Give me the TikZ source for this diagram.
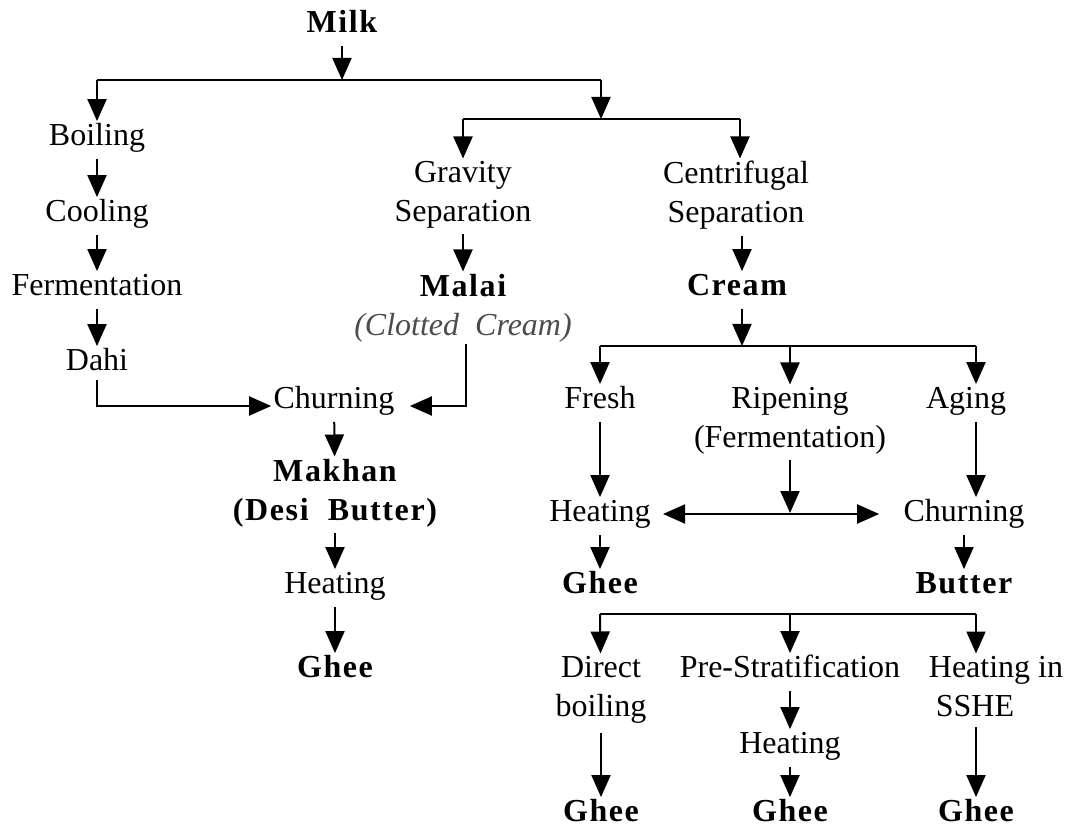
\documentclass[tikz,border=0pt]{standalone}
\usepackage{fontspec}
\setmainfont{Liberation Serif}
\newfontfamily\spbold{Liberation Serif}[LetterSpace=5]
\usetikzlibrary{arrows.meta}
\newcommand\fs{\fontsize{16}{19.5}\selectfont}
\tikzset{
  lbl/.style={inner sep=0pt, text height=11pt, text depth=3.5pt, font=\fs},
  bld/.style={lbl, font=\fs\spbold\bfseries},
  ml/.style={inner sep=0pt, align=center, font=\fs, anchor=north},
  arr/.style={-{Triangle[width=9.5pt,length=11pt]}, line width=1pt, shorten <=3pt, shorten >=1pt},
  arrb/.style={{Triangle[width=9.5pt,length=11pt]}-{Triangle[width=9.5pt,length=11pt]}, line width=1pt},
  ln/.style={line width=1pt},
}
\begin{document}
\begin{tikzpicture}[x=0.5pt,y=-0.5pt]
\useasboundingbox[fill=white] (0,0) rectangle (1081,828);
% nodes
\node[bld] (milk) at (342,25) {Milk};
\node[lbl] (boil) at (97,138) {Boiling};
\node[lbl] (cool) at (97,214) {Cooling};
\node[lbl] (ferm) at (97,288) {Fermentation};
\node[lbl] (dahi) at (97,363) {Dahi};
\node[ml] (grav) at (463,160.5) {Gravity\\Separation};
\node[ml] (cent) at (736,160.5) {Centrifugal\\Separation};
\node[ml] (malai) at (463,273.5) {{\spbold\bfseries Malai}\\{\color{black!70}\itshape (Clotted\ \ Cream)}};
\node[bld] (cream) at (737,288) {Cream};
\node[lbl] (churn1) at (334,401) {Churning};
\node[ml, font=\fs\spbold\bfseries] (makhan) at (335,458.5) {Makhan\\(Desi\ \ Butter)};
\node[lbl] (heat1) at (335,586) {Heating};
\node[bld] (ghee1) at (335,670) {Ghee};
\node[lbl] (fresh) at (600,401) {Fresh};
\node[ml] (ripen) at (790,386.5) {Ripening\\(Fermentation)};
\node[lbl] (aging) at (966,401) {Aging};
\node[lbl] (heat2) at (600,514) {Heating};
\node[lbl] (churn2) at (964,514) {Churning};
\node[bld] (ghee2) at (600,586) {Ghee};
\node[bld] (butter) at (964,586) {Butter};
\node[ml] (direct) at (601,655.5) {Direct\\boiling};
\node[lbl] (prestr) at (790,670) {Pre-Stratification};
\node[ml] (ssh) at (996,655.5) {Heating in\\SSHE\hspace*{21pt}};
\node[lbl] (heat3) at (790,746) {Heating};
\node[bld] (ghee3) at (601,814) {Ghee};
\node[bld] (ghee4) at (790,814) {Ghee};
\node[bld] (ghee5) at (976,814) {Ghee};
% junction coordinates
\coordinate (j1) at (342,80);
\coordinate (j1l) at (97,80);
\coordinate (j1r) at (601,80);
\coordinate (j2) at (601,119);
\coordinate (j2l) at (463,119);
\coordinate (j2r) at (740,119);
\coordinate (j3) at (742,346);
\coordinate (j3l) at (600,346);
\coordinate (j3m) at (790,346);
\coordinate (j3r) at (976,346);
\coordinate (hm) at (790,513);
\coordinate (m1) at (466,344);
\coordinate (j4l) at (600,614);
\coordinate (j4m) at (790,614);
\coordinate (j4r) at (976,614);
% connectors
\draw[arr, shorten >=0pt] (milk) -- (j1);
\draw[ln] (j1l) -- (j1r);
\draw[arr, shorten <=0pt] (j1l) -- (boil);
\draw[arr, shorten <=0pt, shorten >=0pt] (j1r) -- (j2);
\draw[ln] (j2l) -- (j2r);
\draw[arr, shorten <=0pt] (j2l) -- (grav);
\draw[arr, shorten <=0pt] (j2r) -- (j2r |- cent.north);
\draw[arr] (boil) -- (cool);
\draw[arr] (cool) -- (ferm);
\draw[arr] (ferm) -- (dahi);
\draw[arr] (grav) -- (malai);
\draw[arr] (cent.south -| j3) -- (cream.north -| j3);
\draw[arr, shorten <=1pt, shorten >=1pt] (dahi.south) |- ([yshift=-2.5pt]churn1.west);
\draw[arr, shorten <=0pt, shorten >=7.5pt] (m1) |- ([yshift=-2.5pt]churn1.east);
\draw[arr] (churn1) -- (makhan);
\draw[arr] (makhan) -- (heat1);
\draw[arr] (heat1) -- (ghee1);
\draw[arr, shorten >=0pt] (cream.south -| j3) -- (j3);
\draw[ln] (j3l) -- (j3r);
\draw[arr, shorten <=0pt] (j3l) -- (fresh);
\draw[arr, shorten <=0pt] (j3m) -- (ripen);
\draw[arr, shorten <=0pt] (j3r) -- (j3r |- aging.north);
\draw[arr] (fresh) -- (heat2);
\draw[arr, shorten >=0pt] (ripen) -- (hm);
\draw[arr] (aging.south -| j3r) -- (churn2.north -| j3r);
\draw[arrb, shorten <=6pt, shorten >=12pt] (heat2) -- (churn2);
\draw[arr] (heat2) -- (ghee2);
\draw[arr] (churn2) -- (butter);
\draw[ln] (j4l) -- (j4r);
\draw[arr, shorten <=0pt] (j4l) -- (direct);
\draw[arr, shorten <=0pt] (j4m) -- (prestr);
\draw[arr, shorten <=0pt] (j4r) -- (j4r |- ssh.north);
\draw[arr, shorten <=5pt] (direct) -- (ghee3);
\draw[arr] (prestr) -- (heat3);
\draw[arr] (heat3) -- (ghee4);
\draw[arr, shorten <=5pt] (ssh.south -| j4r) -- (ghee5);
\end{tikzpicture}
\end{document}
